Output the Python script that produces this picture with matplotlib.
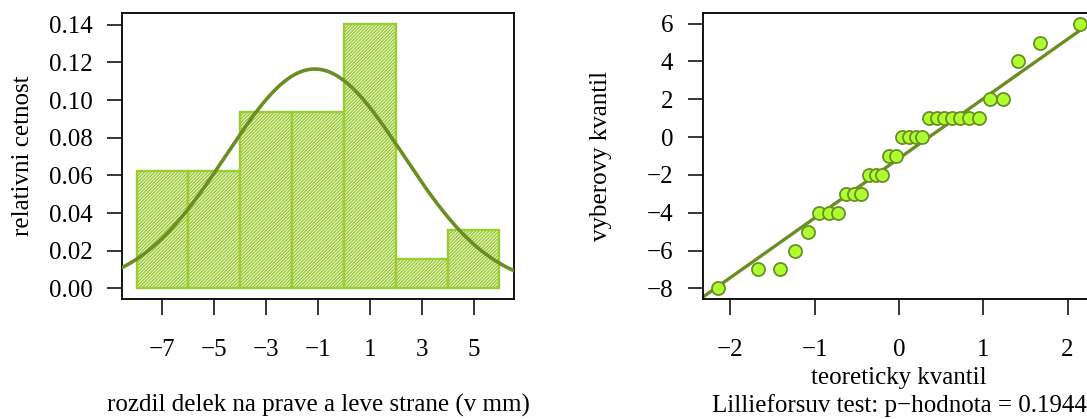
import numpy as np
import matplotlib
matplotlib.use("Agg")
import matplotlib.pyplot as plt
from matplotlib.ticker import FormatStrFormatter
from statistics import NormalDist

plt.rcParams['font.family'] = ['Liberation Serif', 'DejaVu Serif']
plt.rcParams['font.size'] = 18
plt.rcParams['hatch.linewidth'] = 1.1

# rozdily delek (serazene), odectene z QQ grafu
rozdil = [-8, -7, -7, -6, -5, -4, -4, -4, -3, -3, -3, -2, -2, -2, -1, -1,
          0, 0, 0, 0, 1, 1, 1, 1, 1, 1, 1, 2, 2, 4, 5, 6]
hranice = [-8, -6, -4, -2, 0, 2, 4, 6]
xticks_hist = [-7, -5, -3, -1, 1, 3, 5]
yticks_hist = [0.00, 0.02, 0.04, 0.06, 0.08, 0.10, 0.12, 0.14]
xticks_qq = [-2, -1, 0, 1, 2]
yticks_qq = [-8, -6, -4, -2, 0, 2, 4, 6]
p_hodnota = 0.1944

BAR_EDGE = '#9ACD32'
LINE = '#6B8E23'
POINT = '#ADFF2F'

x = np.array(rozdil, dtype=float)
n = len(x)
edges = np.array(hranice, dtype=float)

# histogram jako v R (intervaly zprava uzavrene, include.lowest)
idx = np.searchsorted(edges, x, side='left')
idx = np.clip(idx, 1, len(edges) - 1) - 1
counts = np.bincount(idx, minlength=len(edges) - 1)
widths = np.diff(edges)
dens = counts / (n * widths)

W, H = 1087, 419
fig = plt.figure(figsize=(W / 100, H / 100), dpi=100)
ax1 = fig.add_axes([122 / W, 1 - 299 / H, 392 / W, 286 / H])
ax2 = fig.add_axes([703 / W, 1 - 299 / H, 392 / W, 286 / H])

# ---- histogram ----
ax1.bar(edges[:-1], dens, width=widths, align='edge', facecolor='white',
        edgecolor=BAR_EDGE, hatch='/' * 10, linewidth=1.7, zorder=2)
xlo, xhi = edges[0], edges[-1]
pad = 0.04 * (xhi - xlo)
ax1.set_xlim(xlo - pad, xhi + pad)
ymax = max(dens.max(), yticks_hist[-1])
ax1.set_ylim(-0.04 * ymax, ymax * 1.04)

mu = x.mean()
sd = x.std(ddof=1)
xs = np.linspace(xlo - pad, xhi + pad, 400)
nd = NormalDist(mu, sd)
ax1.plot(xs, [nd.pdf(v) for v in xs], color=LINE, lw=2.6, zorder=3)

ax1.set_xticks(xticks_hist)
ax1.set_yticks(yticks_hist)
ax1.yaxis.set_major_formatter(FormatStrFormatter('%.2f'))
ax1.set_ylabel('relativni cetnost', va='center')
ax1.yaxis.set_label_coords(-0.2526, 0.5)
ax1.set_xlabel('rozdil delek na prave a leve strane (v mm)', va='center')
ax1.xaxis.set_label_coords(0.5, -0.371)

# ---- QQ graf ----
srt = np.sort(x)
pp = (np.arange(1, n + 1) - 0.5) / n
teor = np.array([NormalDist().inv_cdf(p) for p in pp])
ax2.plot(teor, srt, 'o', markerfacecolor=POINT, markeredgecolor=LINE,
         markersize=9.4, markeredgewidth=1.3, zorder=3, clip_on=False)

q1, q3 = np.quantile(x, [0.25, 0.75])
t1, t3 = NormalDist().inv_cdf(0.25), NormalDist().inv_cdf(0.75)
slope = (q3 - q1) / (t3 - t1)
icpt = q1 - slope * t1
tpad = 0.04 * (teor.max() - teor.min())
ax2.set_xlim(teor.min() - tpad, teor.max() + tpad)
ypad = 0.04 * (srt.max() - srt.min())
ax2.set_ylim(srt.min() - ypad, srt.max() + ypad)
ax2.axline((0, icpt), slope=slope, color=LINE, lw=2.4, zorder=2)

ax2.set_xticks(xticks_qq)
ax2.set_yticks(yticks_qq)
ax2.set_ylabel('vyberovy kvantil', va='center')
ax2.yaxis.set_label_coords(-0.260, 0.5)
ax2.set_xlabel('teoreticky kvantil', va='center')
ax2.xaxis.set_label_coords(0.5, -0.276)
ax2.text(0.5, -0.374, 'Lillieforsuv test: p\u2212hodnota = %.4f' % p_hodnota,
         transform=ax2.transAxes, ha='center', va='center')

for ax in (ax1, ax2):
    for s in ax.spines.values():
        s.set_linewidth(1.3)
    ax.tick_params(axis='y', length=10.8, width=1.1, pad=10.5)
    ax.tick_params(axis='x', length=11.5, width=1.1, pad=17)

fig.savefig('out.png', dpi=100)
